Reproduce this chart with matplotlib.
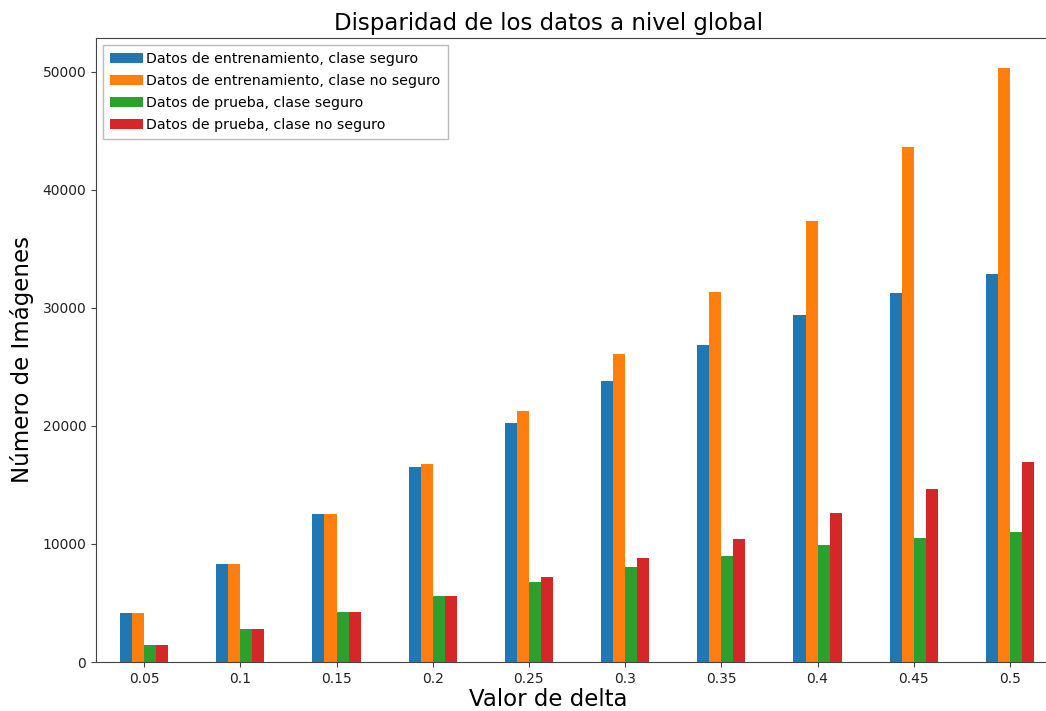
import numpy as np
import pandas as pd
import matplotlib
matplotlib.use("Agg")
import matplotlib.pyplot as plt

deltas = ["0.05", "0.1", "0.15", "0.2", "0.25", "0.3", "0.35", "0.4", "0.45", "0.5"]
train_safe = [4120, 8270, 12500, 16530, 20280, 23830, 26880, 29350, 31290, 32860]
train_unsafe = [4120, 8270, 12500, 16780, 21260, 26120, 31300, 37360, 43640, 50340]
test_safe = [1440, 2770, 4260, 5560, 6790, 8010, 8990, 9930, 10520, 11020]
test_unsafe = [1440, 2770, 4260, 5560, 7170, 8770, 10430, 12590, 14660, 16950]

labels = ["Datos de entrenamiento, clase seguro",
          "Datos de entrenamiento, clase no seguro",
          "Datos de prueba, clase seguro",
          "Datos de prueba, clase no seguro"]

df = pd.DataFrame({labels[0]: train_safe, labels[1]: train_unsafe,
                   labels[2]: test_safe, labels[3]: test_unsafe}, index=deltas)

fig = plt.figure(figsize=(10.46, 7.11), dpi=100)
# the original figure was cropped on the right, so the axes run past the edge
ax = fig.add_axes([0.0918, 0.0689, 0.9197, 0.8777])
df.plot.bar(ax=ax, rot=0)

ax.set_title("Disparidad de los datos a nivel global", fontsize=16.5, x=0.47)
ax.set_xlabel("Valor de delta", fontsize=16.5)
ax.set_ylabel("Número de Imágenes", fontsize=16.5)
ax.xaxis.set_label_coords(0.47, -0.042)
ax.yaxis.set_label_coords(-0.064, 0.485)
for s in ax.spines.values():
    s.set_color("#444444")
ax.tick_params(colors="#444444", labelcolor="#222222")
leg = ax.legend(loc="upper left", fontsize=10.2, handlelength=2.3,
                handletextpad=0.25, labelspacing=0.56, borderpad=0.5,
                fancybox=False)
leg.get_frame().set_edgecolor("#aaaaaa")

fig.savefig("out.png", dpi=100)
